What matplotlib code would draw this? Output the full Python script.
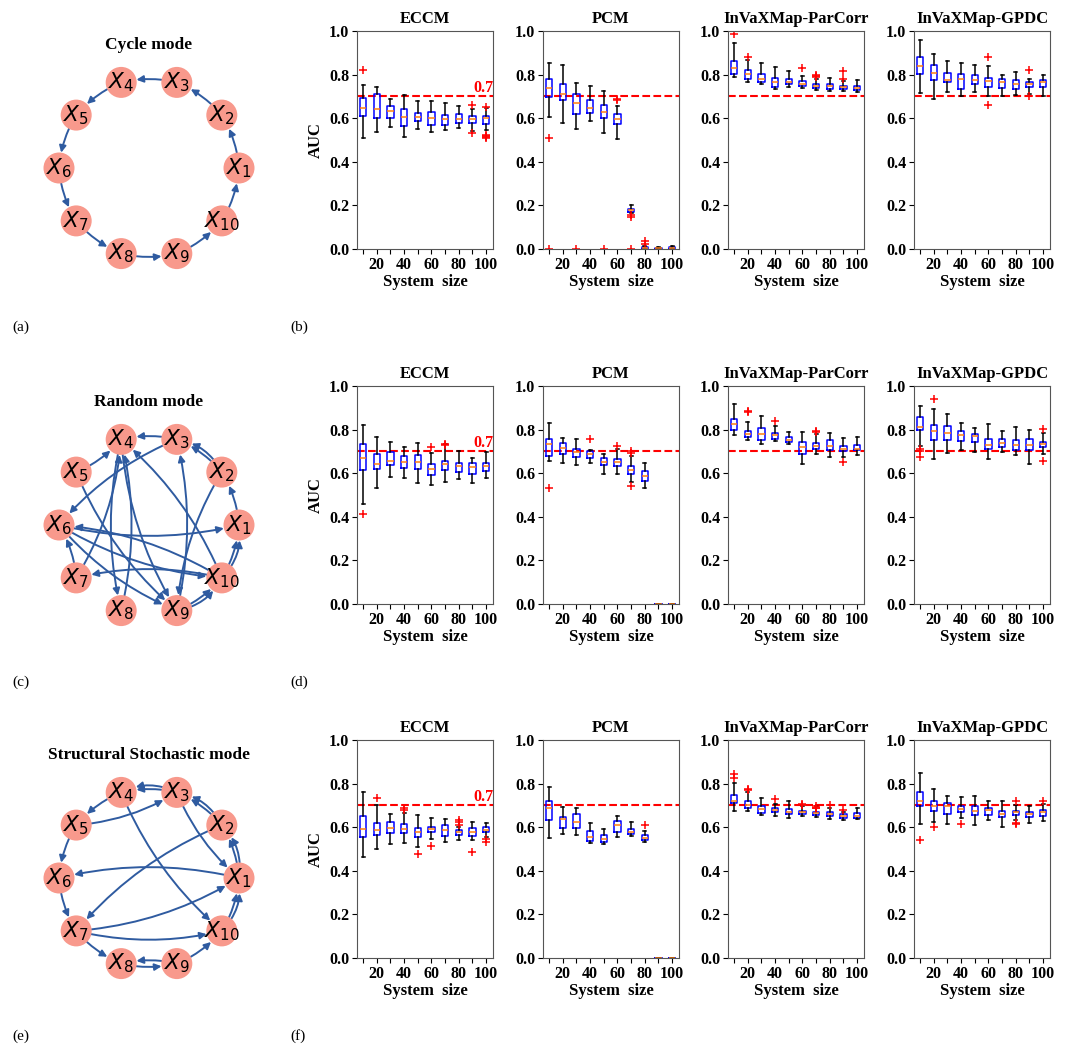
import numpy as np
import matplotlib
matplotlib.use("Agg")
import matplotlib.pyplot as plt
from matplotlib.patches import Circle, FancyArrowPatch

plt.rcParams['font.family'] = ['Liberation Serif', 'DejaVu Serif']
plt.rcParams['mathtext.fontset'] = 'dejavusans'

# ---------------- data ----------------
sizes = [10, 20, 30, 40, 50, 60, 70, 80, 90, 100]
tick_labels = ['', '20', '', '40', '', '60', '', '80', '', '100']
methods = ['ECCM', 'PCM', 'InVaXMap-ParCorr', 'InVaXMap-GPDC']
threshold = 0.7

# each box: (whisker_low, q1, median, q3, whisker_high)
cycle_eccm = [(0.511, 0.611, 0.645, 0.694, 0.751), (0.538, 0.599, 0.642, 0.713, 0.744),
              (0.560, 0.600, 0.635, 0.655, 0.690), (0.515, 0.565, 0.605, 0.640, 0.705),
              (0.550, 0.585, 0.605, 0.625, 0.680), (0.535, 0.570, 0.600, 0.630, 0.680),
              (0.545, 0.570, 0.595, 0.615, 0.670), (0.555, 0.580, 0.598, 0.620, 0.655),
              (0.540, 0.580, 0.595, 0.610, 0.640), (0.545, 0.575, 0.600, 0.610, 0.645)]
cycle_eccm_fl = [[0.82], [], [], [], [], [], [], [], [0.66, 0.53], [0.65, 0.525, 0.515, 0.51, 0.52]]
cycle_pcm = [(0.607, 0.698, 0.739, 0.779, 0.855), (0.576, 0.683, 0.710, 0.756, 0.846),
             (0.549, 0.617, 0.668, 0.710, 0.762), (0.588, 0.625, 0.649, 0.683, 0.748),
             (0.530, 0.599, 0.627, 0.660, 0.726), (0.505, 0.572, 0.596, 0.617, 0.655),
             (0.165, 0.170, 0.178, 0.185, 0.200), (0.0, 0.0, 0.005, 0.010, 0.015),
             (0.0, 0.002, 0.004, 0.006, 0.008), (0.0, 0.0, 0.004, 0.008, 0.015)]
cycle_pcm_fl = [[0.51, 0.0], [], [0.0], [], [0.0], [0.685, 0.69], [0.155, 0.148, 0.0],
                [0.035, 0.025], [], []]
cycle_parcorr = [(0.787, 0.802, 0.828, 0.861, 0.945), (0.767, 0.782, 0.805, 0.823, 0.866),
                 (0.755, 0.767, 0.782, 0.802, 0.855), (0.736, 0.744, 0.767, 0.785, 0.835),
                 (0.744, 0.755, 0.767, 0.779, 0.816), (0.739, 0.748, 0.759, 0.770, 0.793),
                 (0.729, 0.739, 0.748, 0.759, 0.782), (0.726, 0.736, 0.748, 0.759, 0.785),
                 (0.724, 0.732, 0.741, 0.750, 0.770), (0.721, 0.729, 0.739, 0.747, 0.774)]
cycle_parcorr_fl = [[0.985], [0.881], [], [], [], [0.832], [0.80, 0.795, 0.79], [],
                    [0.815, 0.78], []]
cycle_gpdc = [(0.716, 0.805, 0.838, 0.881, 0.960), (0.690, 0.774, 0.808, 0.843, 0.896),
              (0.721, 0.764, 0.777, 0.808, 0.861), (0.703, 0.736, 0.779, 0.802, 0.854),
              (0.721, 0.756, 0.774, 0.797, 0.846), (0.700, 0.741, 0.771, 0.785, 0.840),
              (0.700, 0.739, 0.764, 0.779, 0.797), (0.706, 0.732, 0.755, 0.777, 0.810),
              (0.710, 0.741, 0.759, 0.767, 0.780), (0.701, 0.741, 0.764, 0.774, 0.797)]
cycle_gpdc_fl = [[], [], [], [], [], [0.88, 0.66], [], [], [0.823, 0.70], []]

random_eccm = [(0.458, 0.614, 0.672, 0.736, 0.823), (0.530, 0.618, 0.641, 0.690, 0.766),
               (0.583, 0.637, 0.656, 0.695, 0.743), (0.576, 0.624, 0.652, 0.679, 0.718),
               (0.556, 0.621, 0.652, 0.682, 0.740), (0.544, 0.594, 0.621, 0.641, 0.693),
               (0.560, 0.614, 0.644, 0.656, 0.736), (0.574, 0.606, 0.632, 0.649, 0.702),
               (0.556, 0.598, 0.629, 0.649, 0.672), (0.576, 0.609, 0.632, 0.647, 0.695)]
random_eccm_fl = [[0.415], [], [], [], [], [0.72], [0.735, 0.728], [], [], []]
random_pcm = [(0.656, 0.678, 0.733, 0.759, 0.832), (0.647, 0.687, 0.716, 0.740, 0.763),
              (0.637, 0.675, 0.695, 0.713, 0.759), (0.647, 0.672, 0.690, 0.702, 0.708),
              (0.595, 0.637, 0.652, 0.672, 0.687), (0.595, 0.632, 0.652, 0.664, 0.710),
              (0.560, 0.595, 0.614, 0.632, 0.678), (0.534, 0.565, 0.588, 0.611, 0.647),
              (0.0, 0.0, 0.0, 0.0, 0.0), (0.0, 0.0, 0.0, 0.0, 0.0)]
random_pcm_fl = [[0.534], [], [], [0.759], [], [0.725], [0.70, 0.693, 0.54], [], [], []]
random_parcorr = [(0.774, 0.797, 0.827, 0.850, 0.919), (0.754, 0.766, 0.782, 0.794, 0.835),
                  (0.736, 0.754, 0.779, 0.809, 0.863), (0.747, 0.759, 0.774, 0.786, 0.817),
                  (0.733, 0.744, 0.754, 0.766, 0.789), (0.644, 0.690, 0.721, 0.744, 0.789),
                  (0.690, 0.710, 0.725, 0.739, 0.782), (0.675, 0.705, 0.725, 0.751, 0.785),
                  (0.675, 0.702, 0.713, 0.725, 0.763), (0.685, 0.705, 0.713, 0.728, 0.766)]
random_parcorr_fl = [[], [0.885, 0.88], [], [0.84], [], [], [0.795, 0.79], [], [0.652], []]
random_gpdc = [(0.725, 0.797, 0.812, 0.858, 0.907), (0.664, 0.751, 0.794, 0.820, 0.893),
               (0.693, 0.751, 0.785, 0.817, 0.873), (0.708, 0.747, 0.774, 0.794, 0.832),
               (0.695, 0.744, 0.769, 0.782, 0.808), (0.664, 0.710, 0.728, 0.756, 0.827),
               (0.698, 0.721, 0.740, 0.759, 0.794), (0.682, 0.708, 0.728, 0.751, 0.812),
               (0.641, 0.705, 0.728, 0.756, 0.800), (0.687, 0.718, 0.733, 0.744, 0.785)]
random_gpdc_fl = [[0.71, 0.70, 0.675], [0.942], [], [], [], [], [], [], [], [0.805, 0.658]]

struct_eccm = [(0.463, 0.554, 0.591, 0.652, 0.763), (0.499, 0.562, 0.588, 0.621, 0.702),
               (0.522, 0.573, 0.595, 0.623, 0.660), (0.527, 0.573, 0.591, 0.614, 0.667),
               (0.508, 0.554, 0.580, 0.595, 0.656), (0.545, 0.577, 0.591, 0.603, 0.641),
               (0.531, 0.560, 0.585, 0.608, 0.637), (0.542, 0.565, 0.576, 0.585, 0.603),
               (0.542, 0.560, 0.577, 0.595, 0.623), (0.553, 0.577, 0.588, 0.600, 0.618)]
struct_eccm_fl = [[], [0.736], [], [0.69, 0.68], [0.478], [0.515], [], [0.635, 0.625, 0.61],
                  [0.484], [0.545, 0.53]]
struct_pcm = [(0.550, 0.634, 0.687, 0.721, 0.786), (0.569, 0.595, 0.637, 0.649, 0.692),
              (0.565, 0.595, 0.626, 0.661, 0.687), (0.527, 0.537, 0.557, 0.583, 0.621),
              (0.524, 0.534, 0.547, 0.565, 0.592), (0.554, 0.577, 0.611, 0.629, 0.653),
              (0.560, 0.569, 0.580, 0.592, 0.626), (0.534, 0.542, 0.550, 0.565, 0.583),
              (0.0, 0.0, 0.0, 0.0, 0.0), (0.0, 0.0, 0.0, 0.0, 0.0)]
struct_pcm_fl = [[], [], [], [], [], [], [], [0.611], [], []]
struct_parcorr = [(0.676, 0.713, 0.721, 0.748, 0.805), (0.675, 0.687, 0.702, 0.718, 0.763),
                  (0.656, 0.664, 0.682, 0.695, 0.733), (0.652, 0.669, 0.679, 0.690, 0.707),
                  (0.641, 0.660, 0.672, 0.682, 0.721), (0.653, 0.660, 0.669, 0.675, 0.695),
                  (0.649, 0.656, 0.664, 0.672, 0.695), (0.638, 0.653, 0.660, 0.669, 0.687),
                  (0.634, 0.644, 0.653, 0.660, 0.669), (0.637, 0.644, 0.653, 0.664, 0.687)]
struct_parcorr_fl = [[0.845, 0.825], [0.775, 0.77], [], [0.73], [], [0.705, 0.70],
                     [0.695, 0.69, 0.688], [0.70], [0.68], []]
struct_gpdc = [(0.614, 0.695, 0.721, 0.763, 0.847), (0.626, 0.675, 0.699, 0.718, 0.774),
               (0.614, 0.660, 0.695, 0.710, 0.744), (0.641, 0.669, 0.682, 0.698, 0.737),
               (0.611, 0.656, 0.675, 0.695, 0.744), (0.634, 0.656, 0.679, 0.690, 0.721),
               (0.603, 0.646, 0.661, 0.675, 0.721), (0.634, 0.656, 0.669, 0.676, 0.702),
               (0.618, 0.649, 0.660, 0.669, 0.698), (0.629, 0.653, 0.669, 0.679, 0.707)]
struct_gpdc_fl = [[0.539], [0.603], [], [0.615], [], [], [], [0.718, 0.62, 0.615], [], [0.718]]

cycle_edges = [(1, 2), (2, 3), (3, 4), (4, 5), (5, 6), (6, 7), (7, 8), (8, 9), (9, 10), (10, 1)]
random_edges = [(3, 4), (5, 4), (3, 6), (2, 3), (2, 3), (1, 2), (10, 4), (9, 3), (2, 9),
                (4, 8), (8, 4), (4, 9), (7, 4), (5, 9), (6, 1), (10, 6), (6, 10), (7, 6),
                (6, 9), (10, 7), (9, 10), (9, 10), (10, 1), (10, 1)]
struct_edges = [(3, 4), (3, 4), (4, 5), (5, 3), (5, 6), (6, 7), (1, 6), (2, 7), (3, 1),
                (4, 10), (7, 1), (7, 10), (1, 2), (1, 2), (2, 3), (2, 3), (10, 1), (10, 1),
                (7, 8), (9, 8), (8, 9), (9, 10)]

mode_titles = ['Cycle mode', 'Random mode', 'Structural Stochastic mode']
panel_left = ['(a)', '(c)', '(e)']
panel_right = ['(b)', '(d)', '(f)']

rows = [
    ([cycle_eccm, cycle_pcm, cycle_parcorr, cycle_gpdc],
     [cycle_eccm_fl, cycle_pcm_fl, cycle_parcorr_fl, cycle_gpdc_fl], cycle_edges),
    ([random_eccm, random_pcm, random_parcorr, random_gpdc],
     [random_eccm_fl, random_pcm_fl, random_parcorr_fl, random_gpdc_fl], random_edges),
    ([struct_eccm, struct_pcm, struct_parcorr, struct_gpdc],
     [struct_eccm_fl, struct_pcm_fl, struct_parcorr_fl, struct_gpdc_fl], struct_edges),
]

# ---------------- layout ----------------
W, H = 1074, 1059
fig = plt.figure(figsize=(W / 100, H / 100), dpi=100)

def fig_axes(left_px, top_px, w_px, h_px):
    return fig.add_axes([left_px / W, 1 - (top_px + h_px) / H, w_px / W, h_px / H])

row_tops = [31, 386, 740]
ax_h = 218
col_lefts = [357, 543, 728, 914]
ax_w = 136
graph_centers = [168, 525, 878]
R_PX = 90
NODE_R = 15.5 / R_PX
node_color = '#F8998C'
edge_color = '#2F5BA0'
spine_color = '#555555'


def draw_graph(ax, edges):
    n = 10
    pos = {i: (np.cos(2 * np.pi * (i - 1) / n), np.sin(2 * np.pi * (i - 1) / n))
           for i in range(1, n + 1)}
    seen = {}
    shrink = 15.5 * 72 / 100
    for (a, b) in edges:
        k = seen.get((a, b), 0)
        seen[(a, b)] = k + 1
        rad = 0.12 + 0.13 * k
        arr = FancyArrowPatch(pos[a], pos[b], arrowstyle='-|>', mutation_scale=10,
                              connectionstyle=f'arc3,rad={rad}', shrinkA=shrink,
                              shrinkB=shrink, color=edge_color, lw=1.4, zorder=1)
        ax.add_patch(arr)
    for i, (x, y) in pos.items():
        ax.add_patch(Circle((x, y), NODE_R, color=node_color, zorder=2, lw=0))
        ax.text(x, y, f'$X_{{{i}}}$', ha='center', va='center', fontsize=15.5,
                zorder=3, color='black')
    ax.set_xlim(-1.35, 1.35)
    ax.set_ylim(-1.35, 1.35)
    ax.set_aspect('equal')
    ax.axis('off')


for r, (boxes_list, fliers_list, edges) in enumerate(rows):
    # graph
    gsz = 2.7 * R_PX
    gax = fig_axes(149 - gsz / 2, graph_centers[r] - gsz / 2, gsz, gsz)
    draw_graph(gax, edges)
    fig.text(149 / W, 1 - (graph_centers[r] - 123) / H, mode_titles[r], ha='center',
             va='center', fontsize=12.5, fontweight='bold')
    label_y = 1 - (row_tops[r] + 296) / H
    fig.text(12 / W, label_y, panel_left[r], ha='left', va='center', fontsize=11)
    fig.text(290 / W, label_y, panel_right[r], ha='left', va='center', fontsize=11)

    for c in range(4):
        ax = fig_axes(col_lefts[c], row_tops[r], ax_w, ax_h)
        stats = []
        for (lo, q1, med, q3, hi), fl in zip(boxes_list[c], fliers_list[c]):
            stats.append(dict(whislo=lo, q1=q1, med=med, q3=q3, whishi=hi, fliers=fl))
        ax.bxp(stats, positions=sizes, widths=4.8, showfliers=True,
               boxprops=dict(color='blue', lw=1.1),
               medianprops=dict(color='#ff7f0e', lw=1.1),
               whiskerprops=dict(color='black', lw=1.1),
               capprops=dict(color='black', lw=1.1),
               flierprops=dict(marker='+', markeredgecolor='red', markersize=6,
                               markeredgewidth=1.1, linestyle='none'))
        ax.axhline(threshold, color='red', ls='--', lw=1.5, zorder=0.5)
        if c == 0:
            ax.text(105, threshold + 0.004, '0.7', color='red', fontweight='bold',
                    fontsize=11.5, ha='right', va='bottom')
            ax.set_ylabel('AUC', fontsize=12, fontweight='bold', labelpad=4)
        ax.set_xlim(5.5, 105)
        ax.set_ylim(0, 1)
        ax.set_xticks(sizes)
        ax.set_xticklabels(tick_labels)
        ax.set_yticks([0.0, 0.2, 0.4, 0.6, 0.8, 1.0])
        ax.set_yticklabels(['0.0', '0.2', '0.4', '0.6', '0.8', '1.0'])
        for lab in ax.get_xticklabels() + ax.get_yticklabels():
            lab.set_fontweight('bold')
            lab.set_fontsize(11.5)
        ax.tick_params(axis='y', pad=2)
        ax.tick_params(axis='x', pad=2)
        ax.set_title(methods[c], fontsize=12, fontweight='bold', pad=6)
        ax.set_xlabel('System  size', fontsize=12, fontweight='bold', labelpad=1)
        for sp in ax.spines.values():
            sp.set_color(spine_color)
        ax.tick_params(colors='black', length=3.5)

fig.savefig('out.png', dpi=100)
